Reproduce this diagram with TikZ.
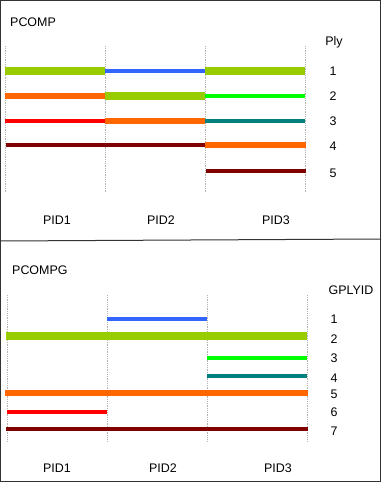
\documentclass[tikz,border=0pt]{standalone}
\usepackage{fontspec}
\setmainfont{Liberation Sans}
\usepackage{tikz}
\usepackage{xcolor}
\usetikzlibrary{positioning}
\definecolor{plygreen}{HTML}{99CC00}
\definecolor{plyblue}{HTML}{3366FF}
\definecolor{plyorange}{HTML}{FF6600}
\definecolor{plylime}{HTML}{00FF00}
\definecolor{plyteal}{HTML}{008080}
\definecolor{plyred}{HTML}{FF0000}
\definecolor{plymaroon}{HTML}{800000}
\tikzset{%
	frame/.style    = {draw=black!80, line width=1bp},
	divider/.style  = {draw=gray!60, densely dotted, line width=0.8bp},
	barwide/.style  = {line width=8bp},
	barmid/.style   = {line width=6bp},
	barthin/.style  = {line width=4bp},
	label/.style    = {font=\fontsize{12.5}{13}\selectfont, inner sep=0pt},
}

\begin{document}
\begin{tikzpicture}[x=1bp,y=-1bp]
		\useasboundingbox (0,0) rectangle (381,482);
		\draw[frame] (0.5,0.5) rectangle (380.5,481.5);
		\draw[frame] (0,241) -- (381,239);
		
		% PCOMP panel
		\node[label,anchor=west] (pcomp) at (10,22) {PCOMP};
		\node[label] (ply) at (334,42) {Ply};
		\foreach \x in {5,105,205,305} \draw[divider] (\x,46) -- (\x,193);
		\foreach \y [count=\i] in {71,96,121,146,173} \node[label] (ply\i) at (333,\y) {\i};
		\foreach \x/\n in {57/1,161/2,276/3} \node[label] (pid\n) at (\x,220) {PID\n};
		
		\draw[barwide,plygreen] (5,71) -- (105,71);
		\draw[barthin,plyblue] (105,71) -- (205,71);
		\draw[barwide,plygreen] (205,71) -- (305,71);
		
		\draw[barmid,plyorange] (5,96) -- (105,96);
		\draw[barwide,plygreen] (105,96) -- (205,96);
		\draw[barthin,plylime] (205,96) -- (305,96);
		
		\draw[barthin,plyred] (5,121) -- (105,121);
		\draw[barmid,plyorange] (105,121) -- (205,121);
		\draw[barthin,plyteal] (205,121) -- (305,121);
		
		\draw[barthin,plymaroon] (6,145) -- (205,145);
		\draw[barmid,plyorange] (205,145) -- (306,145);
		
		\draw[barthin,plymaroon] (206,171) -- (306,171);
		
		% PCOMPG panel
		\node[label,anchor=west] (pcompg) at (12,270) {PCOMPG};
		\node[label] (gplyid) at (351,290) {GPLYID};
		\foreach \x in {7,107,207,307} \draw[divider] (\x,295) -- (\x,442);
		\foreach \y [count=\i] in {319,339,358,378,394,412,431} \node[label] (gply\i) at (334,\y) {\i};
		\foreach \x/\n in {57/1,163/2,278/3} \node[label] (gpid\n) at (\x,468) {PID\n};
		
		\draw[barthin,plyblue] (107,319) -- (207,319);
		\draw[barwide,plygreen] (6,336) -- (307,336);
		\draw[barthin,plylime] (207,358) -- (307,358);
		\draw[barthin,plyteal] (207,376) -- (307,376);
		\draw[barmid,plyorange] (5,393) -- (308,393);
		\draw[barthin,plyred] (7,412) -- (107,412);
		\draw[barthin,plymaroon] (6,429) -- (308,429);
\end{tikzpicture}
\end{document}
